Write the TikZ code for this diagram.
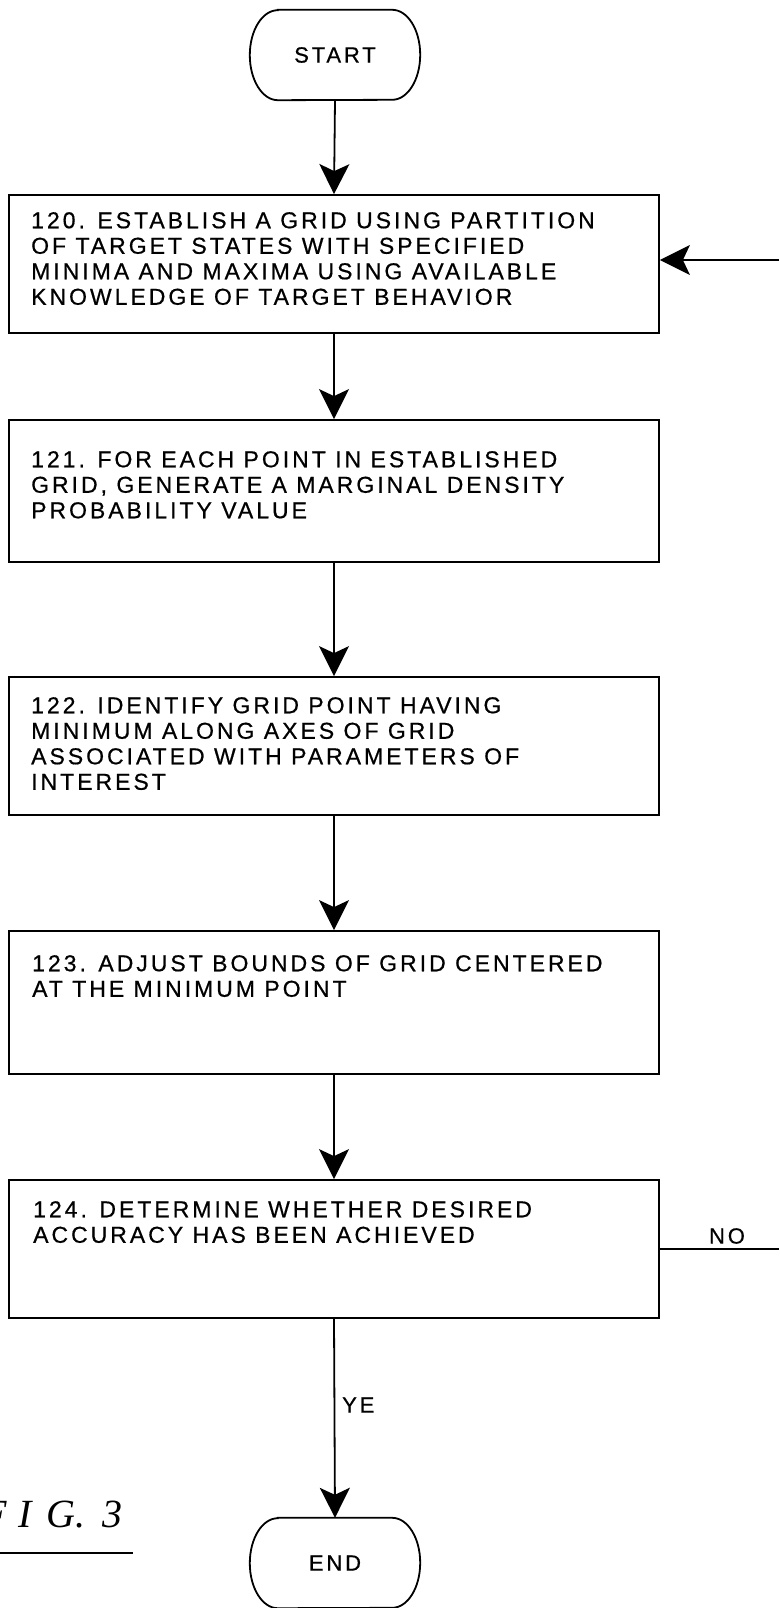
\documentclass[tikz,border=0pt]{standalone}
\usepackage{fontspec}
\usetikzlibrary{arrows.meta}
\newfontfamily\boxfont[LetterSpace=13,FakeBold=0.6]{Liberation Sans}
\newfontfamily\figfont{Liberation Serif}
\tikzset{
  box/.style={draw, line width=1.8pt, minimum width=650pt, inner sep=0pt},
  txt/.style={anchor=north west, inner sep=0pt, align=left, font=\boxfont\fontsize{23pt}{25.5pt}\selectfont},
  lbl/.style={inner sep=0pt, font=\boxfont\fontsize{22pt}{24pt}\selectfont},
  termtext/.style={minimum width=170pt, minimum height=90pt, inner sep=0pt, font=\boxfont\fontsize{22pt}{24pt}\selectfont},
  flow/.style={line width=1.8pt, -{Stealth[length=30pt,width=30pt,inset=7pt]}},
  plain/.style={line width=1.8pt},
}
\newcommand{\terminalpath}[1]{%
  \draw[line width=1.8pt] ([xshift=28pt]#1.north west) -- ([xshift=-28pt]#1.north east)
    arc[start angle=90, end angle=-90, x radius=28pt, y radius=45pt]
    -- ([xshift=28pt]#1.south west)
    arc[start angle=270, end angle=90, x radius=28pt, y radius=45pt] -- cycle;}
\begin{document}
\begin{tikzpicture}[x=1pt,y=1pt]
\clip (0,0) rectangle (779,-1608);
\fill[white] (0,0) rectangle (779,-1608);
% terminals
\node[termtext] (start) at (335,-55) {START};
\terminalpath{start}
\node[termtext] (end) at (335,-1563) {END};
\terminalpath{end}
% boxes
\node[box, minimum height=138pt] (b120) at (334,-264) {};
\node[box, minimum height=142pt] (b121) at (334,-491) {};
\node[box, minimum height=138pt] (b122) at (334,-746) {};
\node[box, minimum height=143pt] (b123) at (334,-1002.5) {};
\node[box, minimum height=138pt] (b124) at (334,-1249) {};
% texts
\node[txt] (t120) at (31,-212) {120. ESTABLISH A GRID USING PARTITION\\OF TARGET STATES WITH SPECIFIED\\MINIMA AND MAXIMA USING AVAILABLE\\KNOWLEDGE OF TARGET BEHAVIOR};
\node[txt] (t121) at (31,-451) {121. FOR EACH POINT IN ESTABLISHED\\GRID, GENERATE A MARGINAL DENSITY\\PROBABILITY VALUE};
\node[txt] (t122) at (31,-697) {122. IDENTIFY GRID POINT HAVING\\MINIMUM ALONG AXES OF GRID\\ASSOCIATED WITH PARAMETERS OF\\INTEREST};
\node[txt] (t123) at (32,-955) {123. ADJUST BOUNDS OF GRID CENTERED\\AT THE MINIMUM POINT};
\node[txt] (t124) at (33,-1201) {124. DETERMINE WHETHER DESIRED\\ACCURACY HAS BEEN ACHIEVED};
% connectors
\draw[flow] (start.south) -- (b120.north);
\draw[flow] (b120.south) -- (b121.north);
\draw[flow] (b121.south) -- (b122.north);
\draw[flow] (b122.south) -- (b123.north);
\draw[flow] (b123.south) -- (b124.north);
\draw[flow] (b124.south) -- (end.north);
\coordinate (noend) at (779,-1249);
\coordinate (retstart) at (779,-260);
\draw[plain] (b124.east) -- (noend);
\draw[flow] (retstart) -- (retstart -| b120.east);
\node[lbl, anchor=west] (ye) at (342,-1405) {YE};
\node[lbl] (no) at (727,-1236) {NO};
% figure label
\node[inner sep=0pt, anchor=base east, font=\figfont\itshape\fontsize{40pt}{44pt}\selectfont] (fig) at (123,-1527) {F\hspace{12pt}I\hspace{15pt}G.\hspace{17pt}3};
\coordinate (ulA) at (0,-1553);
\coordinate (ulB) at (133,-1553);
\draw[line width=1.8pt] (ulA) -- (ulB);
\end{tikzpicture}
\end{document}
